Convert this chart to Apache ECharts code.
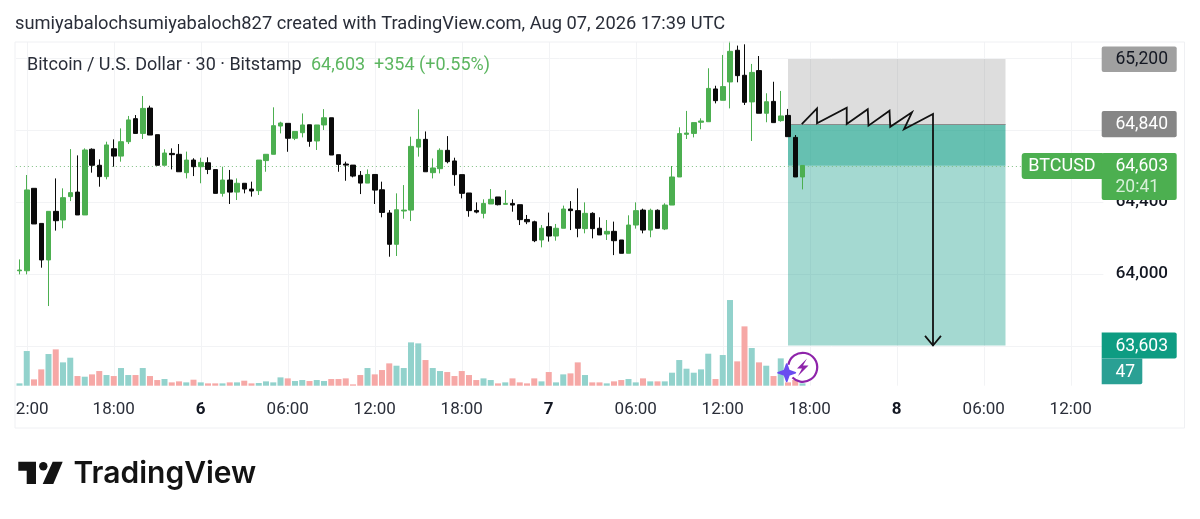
<!DOCTYPE html>
<html><head><meta charset="utf-8">
<style>html,body{margin:0;padding:0;background:#fff}#c{width:1200px;height:519px}</style>
<script src="https://cdn.jsdelivr.net/npm/echarts@6/dist/echarts.min.js"></script>
</head><body><div id="c"></div>
<script>
// [open, close, low, high]
const candles = [
[64018,64022,63998,64081],[64018,64467,63998,64550],[64476,64278,64278,64476],[64281,64078,64035,64281],
[64078,64348,63822,64348],[64348,64296,64241,64531],[64300,64424,64254,64476],[64430,64452,64405,64694],
[64455,64328,64328,64659],[64328,64689,64328,64698],[64693,64604,64563,64698],[64604,64541,64485,64637],
[64541,64717,64526,64735],[64696,64655,64596,64748],[64655,64735,64624,64809],[64735,64856,64722,64878],
[64863,64781,64781,64883],[64781,64920,64750,64989],[64922,64772,64772,64935],[64774,64604,64604,64774],
[64604,64672,64604,64693],[64670,64663,64581,64698],[64665,64568,64568,64722],[64563,64633,64531,64680],
[64633,64596,64544,64643],[64596,64620,64504,64646],[64618,64581,64555,64648],[64580,64448,64448,64580],
[64448,64522,64430,64596],[64522,64455,64389,64578],[64455,64504,64411,64531],[64504,64472,64448,64504],
[64472,64461,64430,64513],[64463,64633,64439,64633],[64630,64665,64568,64665],[64665,64824,64665,64926],
[64822,64839,64781,64846],[64837,64754,64679,64837],[64754,64792,64744,64792],[64785,64828,64759,64892],
[64829,64737,64707,64829],[64739,64828,64689,64828],[64828,64868,64800,64916],[64868,64661,64661,64868],
[64663,64609,64568,64663],[64611,64605,64518,64624],[64605,64544,64537,64605],[64548,64505,64444,64572],
[64505,64553,64505,64581],[64553,64466,64389,64553],[64468,64342,64315,64513],[64339,64165,64096,64355],
[64165,64357,64100,64448],[64350,64355,64307,64494],[64355,64709,64294,64763],[64705,64748,64652,64915],
[64748,64568,64568,64792],[64563,64589,64531,64642],[64585,64687,64559,64698],[64687,64624,64615,64766],
[64628,64552,64490,64646],[64552,64448,64420,64552],[64450,64352,64318,64450],[64353,64344,64337,64398],
[64337,64392,64309,64415],[64389,64415,64389,64472],[64428,64385,64381,64428],[64387,64392,64387,64466],
[64392,64383,64346,64415],[64385,64302,64272,64385],[64303,64290,64277,64328],[64290,64185,64177,64296],
[64189,64254,64148,64272],[64263,64211,64180,64341],[64211,64254,64185,64278],[64254,64361,64254,64380],
[64361,64352,64244,64405],[64352,64254,64204,64476],[64252,64337,64226,64398],[64337,64252,64198,64343],
[64254,64217,64217,64315],[64222,64237,64189,64300],[64237,64185,64105,64291],[64189,64115,64115,64189],
[64115,64272,64115,64326],[64272,64352,64252,64398],[64355,64244,64226,64363],[64244,64354,64204,64363],
[64354,64254,64254,64359],[64250,64383,64244,64393],[64383,64539,64383,64600],[64539,64780,64539,64815],
[64776,64783,64750,64906],[64781,64841,64759,64841],[64843,64850,64804,64865],[64846,65031,64846,65143],
[65028,64963,64948,65046],[64965,65041,64965,65217],[65067,65237,64920,65291],[65243,65102,65065,65269],
[65104,64954,64939,65276],[64956,65120,64739,65167],[65130,64893,64893,65211],[64893,64957,64843,65004],
[64959,64841,64841,65068],[64852,64878,64846,65017],[64881,64763,64763,64917],[64759,64539,64539,64772],
[64539,64603,64470,64603]
];
const volumes = [7,104,19,49,95,109,70,84,29,27,34,44,32,29,53,32,32,53,29,17,20,10,13,10,18,10,7,7,7,10,10,15,7,8,13,10,
25,22,14,17,14,17,14,20,20,22,4,32,53,34,47,67,60,53,130,127,77,53,44,41,29,44,32,17,22,17,7,10,22,10,7,22,13,41,10,34,37,70,32,10,10,7,13,17,20,10,22,13,13,13,
39,77,51,39,49,96,20,92,257,73,178,113,70,60,29,82,10,17,7];
const tickLabels = {1:'2:00',13:'18:00',25:'6',37:'06:00',49:'12:00',61:'18:00',73:'7',85:'06:00',97:'12:00',109:'18:00',121:'8',133:'06:00',145:'12:00'};
const boldTicks = ['6','7','8'];
const priceTicks = [63600,64000,64400,64800,65200];
const stopPrice = 65195, entryPrice = 64834, lastPrice = 64601, targetPrice = 63603;
const zigzag = [[107.9,64832],[110,64920],[110,64837],[114.1,64924],[114.1,64833],[117,64915],[117.1,64824],[120,64907],[120.1,64818],[123.1,64898],[122,64804],[126,64889],[126,63603]];
const arrowHead = [[124.9,63656],[126,63603],[127.1,63656]];
const posStart = 106, posEnd = 136, barCount = 150;

const UP='#4caf50', DOWN='#0a0a0a', FONT='Roboto, sans-serif', INK='#131722', GRID='#f2f3f5';
const categories = Array.from({length:barCount},(_,i)=>tickLabels[i]||'');
const showTick = (i,v)=>v!=='';
const volData = volumes.map((v,i)=>({value:v,itemStyle:{color:candles[i][1]>=candles[i][0]?'#92d2cc':'#f6a8a6'}}));
const rectFill = (a,b,c)=>[{xAxis:posStart,yAxis:a,itemStyle:{color:c}},{xAxis:posEnd,yAxis:b}];
const annotLine = (name,data)=>({type:'line',name,xAxisIndex:2,yAxisIndex:0,data,showSymbol:false,symbol:'none',z:6,silent:true,animation:false,
  lineStyle:{color:'#111',width:1.8,join:'miter'}});

const chart = echarts.init(document.getElementById('c'),null,{renderer:'canvas'});
const GL=15.875, GW=1087.5, GT=42, GB=385.7;
chart.setOption({
  animation:false, backgroundColor:'#fff',
  grid:[
    {left:GL,top:GT,width:GW,height:GB-GT},
    {left:GL,top:GB-100,width:GW,height:100}
  ],
  xAxis:[
    {type:'category',gridIndex:0,data:categories,axisLine:{show:false},axisTick:{show:false},
     splitLine:{show:true,alignWithLabel:true,interval:showTick,lineStyle:{color:GRID,width:1}},
     axisLabel:{interval:showTick,margin:15.5,hideOverlap:false,fontFamily:FONT,fontSize:17,color:'#2a2e39',
       formatter:v=>v==='2:00'?`{clip|${v}}`:(boldTicks.includes(v)?`{b|${v}}`:v),
       rich:{b:{fontFamily:FONT,fontSize:17,fontWeight:700,color:INK},clip:{fontFamily:FONT,fontSize:17,color:'#2a2e39',padding:[0,0,0,11]}}}},
    {type:'category',gridIndex:1,data:categories,show:false},
    {type:'value',gridIndex:0,min:-0.5,max:barCount-0.5,show:false}
  ],
  yAxis:[
    {type:'value',gridIndex:0,position:'right',min:63379.4,max:65288.9,scale:true,axisLine:{show:false},
     axisTick:{show:false,customValues:priceTicks},
     splitLine:{show:true,lineStyle:{color:GRID,width:1}},
     axisLabel:{customValues:priceTicks,margin:64.6,align:'right',padding:[3,0,0,0],fontFamily:FONT,fontSize:17,fontWeight:500,color:INK,
       formatter:v=>Number(v).toLocaleString('en-US')}},
    {type:'value',gridIndex:1,min:0,max:300,show:false}
  ],
  series:[
    {type:'bar',name:'Volume',xAxisIndex:1,yAxisIndex:1,data:volData,barWidth:6,z:1,silent:true},
    {type:'line',name:'Position',xAxisIndex:0,yAxisIndex:0,data:[],z:2,silent:true,
     markArea:{silent:true,z:2,data:[
       rectFill(stopPrice,entryPrice,'rgba(128,128,128,0.27)'),
       rectFill(entryPrice,lastPrice,'rgba(8,153,129,0.62)'),
       rectFill(lastPrice,targetPrice,'rgba(8,153,129,0.37)')
     ]},
     markLine:{silent:true,symbol:'none',z:3,label:{show:false},data:[
       {yAxis:lastPrice,lineStyle:{color:'#7fbf83',type:[1,3],width:1}},
       [{xAxis:posStart,yAxis:entryPrice,lineStyle:{color:'#8a8a8a',type:'solid',width:1}},{xAxis:posEnd,yAxis:entryPrice}]
     ]}},
    {type:'candlestick',name:'BTCUSD',xAxisIndex:0,yAxisIndex:0,data:candles,barWidth:5,z:5,silent:true,
     itemStyle:{color:UP,color0:DOWN,borderColor:UP,borderColor0:DOWN,borderWidth:1}},
    annotLine('Path',zigzag),
    annotLine('Arrow',arrowHead)
  ]
});

const py = v=>chart.convertToPixel({yAxisIndex:0},v);
const TX=1101.7, TW=75, TR=1168;
function tag(x,y,w,h,fill,r){return {type:'rect',z:100,shape:{x,y,width:w,height:h,r:r||[2,2,2,2]},style:{fill}};}
function txt(x,y,t,color,size,align,weight,fam){return {type:'text',z:101,x,y,style:{text:t,fill:color,font:`${weight||400} ${size}px ${fam||FONT}`,textAlign:align||'left',textVerticalAlign:'middle'}};}
const sy=py(stopPrice), ey=py(entryPrice), ly=py(lastPrice), ty=py(targetPrice);
chart.setOption({graphic:{elements:[
  {type:'rect',z:90,shape:{x:15,y:42,width:1169.5,height:386},style:{fill:'none',stroke:'#eff0f3',lineWidth:1},silent:true},
  txt(15,24.5,'sumiyabalochsumiyabaloch827 created with TradingView.com, Aug 07, 2026 17:39 UTC','#2a2e39',18.3),
  txt(27,65.5,'Bitcoin / U.S. Dollar · 30 · Bitstamp','#2a2e39',18),
  txt(311,65.5,'64,603','#5cb660',18),
  txt(374,65.5,'+354 (+0.55%)','#5cb660',18),
  tag(TX,sy-12.4,TW,25.5,'#a0a0a0'),
  txt(TR,sy+0.5,'65,200','#131722',17.5,'right'),
  tag(TX,ey-13,TW,26.3,'#868686'),
  txt(TR,ey+1,'64,840','#ffffff',17.5,'right'),
  tag(1021.7,ly-12.7,81,26,UP,[3,0,0,3]),
  txt(1062,ly+1,'BTCUSD','#ffffff',18,'center'),
  tag(TX,ly-12.7,TW,47,UP),
  txt(TR,ly+0.5,'64,603','#ffffff',17.5,'right'),
  txt(1115.5,ly+21.5,'20:41','#d8f0d9',17.5,'left'),
  tag(TX,ty-13,TW,26,'#0e9c82',[0,2,2,0]),
  txt(TR,ty+1,'63,603','#ffffff',17.5,'right'),
  tag(TX,ty+13,40.6,25.7,'#2aa094',[0,0,2,0]),
  txt(1115.5,ty+27,'47','#ffffff',17.5,'left'),
  // alert and assistant marks
  {type:'circle',z:95,shape:{cx:802.7,cy:367.3,r:14.5},style:{fill:'rgba(255,255,255,0.85)'}},
  {type:'arc',z:96,shape:{cx:802.7,cy:367.3,r:14.5,startAngle:190*Math.PI/180,endAngle:(360+135)*Math.PI/180,clockwise:true},style:{fill:'none',stroke:'#8e24aa',lineWidth:2.2}},
  {type:'polygon',z:96,shape:{points:[[807,358.5],[797,368.5],[802,368.5],[798,376],[808.5,365.5],[803,365.5]]},style:{fill:'#8e24aa'}},
  {type:'polygon',z:97,shape:{points:[[786.7,364],[789,370.4],[795.4,372.7],[789,375],[786.7,381.4],[784.4,375],[778,372.7],[784.4,370.4]]},style:{fill:'#6a4cf0',stroke:'#6a4cf0',lineWidth:1.6,lineJoin:'round'}},
  // logo
  {type:'polygon',z:100,shape:{points:[[18.3,461.7],[36,461.7],[36,484],[26.7,484],[26.7,470.7],[18.3,470.7]]},style:{fill:'#131313'}},
  {type:'circle',z:100,shape:{cx:43.3,cy:466.3,r:4.2},style:{fill:'#131313'}},
  {type:'polygon',z:100,shape:{points:[[52.7,461.7],[62.7,461.7],[53.3,484],[42.7,484]]},style:{fill:'#131313'}},
  txt(73.5,474,'TradingView','#131313',30,'left',600,'Inter, sans-serif')
]}});
</script></body></html>
